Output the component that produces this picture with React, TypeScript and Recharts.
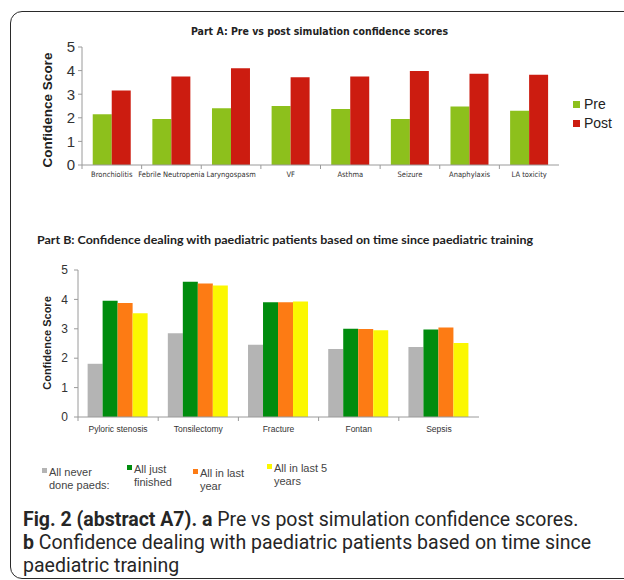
import { BarChart, Bar, XAxis, YAxis } from 'recharts';

const partACategories = ['Bronchiolitis', 'Febrile Neutropenia', 'Laryngospasm', 'VF', 'Asthma', 'Seizure', 'Anaphylaxis', 'LA toxicity'];
const preScores = [2.15, 1.95, 2.4, 2.5, 2.37, 1.95, 2.48, 2.3];
const postScores = [3.16, 3.75, 4.1, 3.72, 3.75, 3.98, 3.87, 3.82];

const partBCategories = ['Pyloric stenosis', 'Tonsilectomy', 'Fracture', 'Fontan', 'Sepsis'];
const neverDone = [1.81, 2.85, 2.46, 2.31, 2.38];
const justFinished = [3.95, 4.6, 3.9, 3.0, 2.98];
const lastYear = [3.88, 4.54, 3.9, 2.99, 3.04];
const lastFiveYears = [3.53, 4.47, 3.93, 2.95, 2.52];

const scoreTicks = [0, 1, 2, 3, 4, 5];

const partASeries = [
  { key: 'pre', name: 'Pre', color: '#8dc01c' },
  { key: 'post', name: 'Post', color: '#cc1c10' },
];

const partBSeries = [
  { key: 'never', lines: ['All never', 'done paeds:'], color: '#b4b4b4' },
  { key: 'just', lines: ['All just', 'finished'], color: '#008c0e' },
  { key: 'year', lines: ['All in last', 'year'], color: '#fd7b14' },
  { key: 'five', lines: ['All in last 5', 'years'], color: '#fbf700' },
];

const partAData = partACategories.map((name, i) => ({ name, pre: preScores[i], post: postScores[i] }));
const partBData = partBCategories.map((name, i) => ({
  name,
  never: neverDone[i],
  just: justFinished[i],
  year: lastYear[i],
  five: lastFiveYears[i],
}));

// chart A geometry
const A_W = 624;
const A_H = 200;
const A_MARGIN = { top: 47, right: 65, bottom: 5, left: 52 };
const A_BAND = (A_W - A_MARGIN.left - 30 - A_MARGIN.right) / partACategories.length;

// chart B geometry
const B_W = 624;
const B_H = 200;
const B_TOP = 250;
const B_MARGIN = { top: 20, right: 145, bottom: 3, left: 48 };
const B_BAND = (B_W - B_MARGIN.left - 30 - B_MARGIN.right) / partBCategories.length;

const axisGrey = '#9a9a9a';

function makeTick(band: number, fontSize: number, family: string, dy: number) {
  return (props: any) => {
    const { x, y, payload } = props;
    return (
      <g>
        <line x1={x - band / 2} x2={x - band / 2} y1={y} y2={y + 4} stroke={axisGrey} />
        <text x={x} y={y + dy} textAnchor="middle" fontSize={fontSize} fontFamily={family} fill="#333">
          {payload.value}
        </text>
      </g>
    );
  };
}

export default function App() {
  return (
    <div style={{ position: 'absolute', left: 0, top: 0, width: 624, height: 580, background: '#fff', overflow: 'hidden' }}>
      <div
        style={{
          position: 'absolute',
          left: 10,
          top: 11,
          width: 700,
          height: 566,
          border: '1.5px solid #2a2a2a',
          borderRadius: 12,
        }}
      />

      <svg width={624} height={580} style={{ position: 'absolute', left: 0, top: 0 }}>
        <text
          x={191}
          y={35}
          textLength={257}
          lengthAdjust="spacingAndGlyphs"
          fontSize={11}
          fontWeight="bold"
          fontFamily="'Liberation Sans Narrow', 'DejaVu Sans Condensed', 'Liberation Sans', sans-serif"
          fill="#222"
        >
          Part A: Pre vs post simulation confidence scores
        </text>
        <text
          x={37}
          y={244}
          textLength={496}
          lengthAdjust="spacingAndGlyphs"
          fontSize={12}
          fontWeight="bold"
          fontFamily="Lato, 'Liberation Sans', sans-serif"
          fill="#222"
        >
          Part B: Confidence dealing with paediatric patients based on time since paediatric training
        </text>
        <text
          transform="translate(52 110) rotate(-90)"
          textAnchor="middle"
          fontSize={13.5}
          fontWeight="bold"
          fontFamily="'Liberation Sans', Arial, sans-serif"
          fill="#222"
        >
          Confidence Score
        </text>
        <text
          transform="translate(51 343) rotate(-90)"
          textAnchor="middle"
          fontSize={11}
          fontWeight="bold"
          fontFamily="'Liberation Sans', Arial, sans-serif"
          fill="#222"
        >
          Confidence Score
        </text>
      </svg>

      <div style={{ position: 'absolute', left: 0, top: 0 }}>
        <BarChart width={A_W} height={A_H} data={partAData} margin={A_MARGIN} barCategoryGap="18%" barGap={0}>
          <XAxis
            dataKey="name"
            height={30}
            tickSize={0}
            tickMargin={0}
            tickLine={false}
            interval={0}
            axisLine={{ stroke: axisGrey }}
            tick={makeTick(A_BAND, 7.5, "'Liberation Sans Narrow', 'DejaVu Sans Condensed', 'Liberation Sans', sans-serif", 12)}
          />
          <XAxis xAxisId="top" dataKey="name" orientation="top" height={0} tick={false} tickLine={false} axisLine={{ stroke: axisGrey }} />
          <YAxis
            width={30}
            domain={[0, 5]}
            ticks={scoreTicks}
            interval={0}
            tickSize={4}
            tickMargin={3}
            tickLine={{ stroke: axisGrey }}
            axisLine={{ stroke: axisGrey }}
            tick={{ fontSize: 15, fill: '#333', fontFamily: "'Liberation Sans', Arial, sans-serif" }}
          />
          <YAxis yAxisId="right" orientation="right" width={0} domain={[0, 5]} tick={false} tickLine={false} axisLine={{ stroke: axisGrey }} />
          {partASeries.map((s) => (
            <Bar key={s.key} dataKey={s.key} name={s.name} fill={s.color} isAnimationActive={false} />
          ))}
        </BarChart>
      </div>

      {partASeries.map((s, i) => (
        <div
          key={s.key}
          style={{
            position: 'absolute',
            left: 573,
            top: 95 + i * 19,
            display: 'flex',
            alignItems: 'center',
            fontFamily: "'Liberation Sans', Arial, sans-serif",
            fontSize: 14,
            color: '#222',
            lineHeight: '18px',
          }}
        >
          <span style={{ display: 'inline-block', width: 7, height: 7, background: s.color, marginRight: 4 }} />
          {s.name}
        </div>
      ))}

      <div style={{ position: 'absolute', left: 0, top: B_TOP }}>
        <BarChart width={B_W} height={B_H} data={partBData} margin={B_MARGIN} barCategoryGap="12%" barGap={0}>
          <XAxis
            dataKey="name"
            height={30}
            tickSize={0}
            tickMargin={0}
            tickLine={false}
            interval={0}
            axisLine={{ stroke: axisGrey }}
            tick={makeTick(B_BAND, 8.5, "'Liberation Sans', Arial, sans-serif", 15)}
          />
          <XAxis xAxisId="top" dataKey="name" orientation="top" height={0} tick={false} tickLine={false} axisLine={{ stroke: axisGrey }} />
          <YAxis
            width={30}
            domain={[0, 5]}
            ticks={scoreTicks}
            interval={0}
            tickSize={4}
            tickMargin={6}
            tickLine={{ stroke: axisGrey }}
            axisLine={{ stroke: axisGrey }}
            tick={{ fontSize: 12, fill: '#333', fontFamily: "'Liberation Sans', Arial, sans-serif" }}
          />
          <YAxis yAxisId="right" orientation="right" width={0} domain={[0, 5]} tick={false} tickLine={false} axisLine={{ stroke: axisGrey }} />
          {partBSeries.map((s) => (
            <Bar key={s.key} dataKey={s.key} fill={s.color} isAnimationActive={false} />
          ))}
        </BarChart>
      </div>

      {partBSeries.map((s, i) => {
        const lefts = [42, 127, 193, 267];
        const tops = [466, 463, 467, 462];
        return (
          <div
            key={s.key}
            style={{
              position: 'absolute',
              left: lefts[i],
              top: tops[i],
              display: 'flex',
              alignItems: 'flex-start',
              fontFamily: "'Liberation Sans', Arial, sans-serif",
              fontSize: 11,
              lineHeight: '13px',
              color: '#444',
            }}
          >
            <span style={{ display: 'inline-block', width: 5, height: 5, background: s.color, marginTop: 2, marginRight: 2 }} />
            <span>
              {s.lines[0]}
              <br />
              {s.lines[1]}
            </span>
          </div>
        );
      })}

      <div
        style={{
          position: 'absolute',
          left: 23,
          top: 508,
          width: 610,
          fontFamily: "Roboto, 'Liberation Sans', sans-serif",
          fontSize: 19.5,
          lineHeight: '23px',
          color: '#262626',
          whiteSpace: 'nowrap',
        }}
      >
        <b style={{ fontWeight: 700 }}>Fig. 2 (abstract A7). a</b> Pre vs post simulation confidence scores.
        <br />
        <b style={{ fontWeight: 700 }}>b</b> Confidence dealing with paediatric patients based on time since
        <br />
        paediatric training
      </div>
    </div>
  );
}
